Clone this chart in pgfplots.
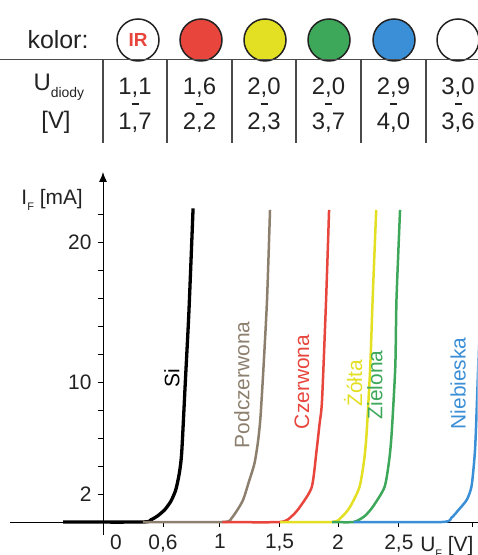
\documentclass[border=0pt]{standalone}
\usepackage{fontspec}
\setmainfont{Liberation Sans}
\usepackage{pgfplots}
\pgfplotsset{compat=1.18}
\usetikzlibrary{arrows.meta}
\definecolor{cred}{HTML}{E8453C}
\definecolor{cyel}{HTML}{E3DF22}
\definecolor{cgrn}{HTML}{3DA85A}
\definecolor{cblu}{HTML}{3B8FD6}
\definecolor{cbrn}{HTML}{8C7F6E}
\definecolor{txt}{HTML}{222222}
\definecolor{lin}{HTML}{4A4A4A}
\newcommand{\bigf}{\fontsize{24}{24}\selectfont}
\newcommand{\lbl}{\fontsize{21}{21}\selectfont}
\begin{document}
\begin{tikzpicture}[x=1bp,y=1bp]
\useasboundingbox (0,0) rectangle (478,555);
% ---- table header ----
\node[font=\fontsize{25}{25}\selectfont, text=txt] at (58,515) {kolor:};
\draw[line width=1.5bp, draw=txt, fill=white] (138,515) circle (21);
\node[font=\fontsize{19}{19}\selectfont\bfseries, text=cred] at (138,515) {IR};
\draw[line width=1.5bp, draw=txt, fill=cred] (201,515) circle (21);
\draw[line width=1.5bp, draw=txt, fill=cyel] (265,515) circle (21);
\draw[line width=1.5bp, draw=txt, fill=cgrn] (329,515) circle (21);
\draw[line width=1.5bp, draw=txt, fill=cblu] (394,515) circle (21);
\draw[line width=1.5bp, draw=txt, fill=white] (458,515) circle (21);
\draw[line width=1.3bp, draw=lin] (0,495.5) -- (478,495.5);
\foreach \xx in {103,167,232,296,361,426}{\draw[line width=1.1bp, draw=lin] (\xx,495.5) -- (\xx,412);}
\node[font=\bigf, text=txt, anchor=west] at (30,468) {U\raisebox{-0.55ex}{\fontsize{14}{14}\selectfont diody}};
\node[font=\bigf, text=txt] at (56,433) {[V]};
\foreach \cx/\a/\b in {135/{1,1}/{1,7},199.5/{1,6}/{2,2},264/{2,0}/{2,3},328.5/{2,0}/{3,7},393.5/{2,9}/{4,0},458/{3,0}/{3,6}}{
  \node[font=\bigf, text=txt, inner sep=0pt] at (\cx,467) {\a};
  \draw[line width=1.6bp, draw=txt] (\cx-3.5,451) -- (\cx+3.5,451);
  \node[font=\bigf, text=txt, inner sep=0pt] at (\cx,432) {\b};
}
% ---- plot ----
\begin{axis}[
  at={(103bp,33bp)}, anchor=origin,
  x=119.3bp, y=14bp,
  xmin=-0.78, xmax=3.14, ymin=-0.93, ymax=25,
  axis lines=middle,
  axis line style={black, line width=0.9bp, -},
  y axis line style={-{Latex[length=10bp,width=8bp]}},
  tick style={black, line width=0.9bp},
  major tick length=5bp,
  tick align=outside,
  hide obscured x ticks=false,
  hide obscured y ticks=false,
  xtick={0,0.503,0.98,1.48,1.97,2.48,3.1},
  xticklabels={\makebox[0pt][l]{\hspace{7bp}0},{0,6},1,{1,5},2,{2,5},{}},
  ytick={2,4,6,8,10,12,14,16,18,20,22},
  yticklabels={2,,,,10,,,,,20,},
  tick label style={font=\lbl, text=txt},
  xticklabel style={yshift=-4bp},
  yticklabel style={xshift=-3bp},
  xlabel={U\raisebox{-0.5ex}{\fontsize{11}{11}\selectfont F} [V]},
  ylabel={I\raisebox{-0.5ex}{\fontsize{11}{11}\selectfont F} [mA]},
  every axis x label/.style={at={(axis cs:2.63,-1.79)}, anchor=west, font=\lbl, text=txt},
  every axis y label/.style={at={(axis cs:-0.14,23.0)}, anchor=east, font=\lbl, text=txt},
  clip=true,
]
\addplot[black, line width=3.3bp, smooth, tension=0.4] coordinates {
(-0.335,0) (0.33,0) (0.40,0.15) (0.46,0.45) (0.52,0.9) (0.57,1.5) (0.61,2.3) (0.64,3.5) (0.66,5.0) (0.69,10) (0.72,15) (0.755,22.4)};
\addplot[cbrn, line width=2.5bp, smooth, tension=0.4] coordinates {
(0.335,0) (1.0,0) (1.08,0.3) (1.17,1.5) (1.22,2.8) (1.27,4.2) (1.30,5.8) (1.32,7.5) (1.345,11) (1.375,15.9) (1.40,22.3)};
\addplot[cred, line width=2.5bp, smooth, tension=0.4] coordinates {
(1.0,0) (1.484,0) (1.58,0.4) (1.65,1.07) (1.75,2.5) (1.79,5.1) (1.815,7) (1.836,8.7) (1.87,15.9) (1.895,22.3)};
\addplot[cyel, line width=2.5bp, smooth, tension=0.4] coordinates {
(1.484,0) (1.92,0) (2.00,0.35) (2.07,1.07) (2.15,2.5) (2.19,4.5) (2.21,6.4) (2.24,11.1) (2.26,15.9) (2.29,22.3)};
\addplot[cgrn, line width=2.5bp, smooth, tension=0.4] coordinates {
(1.92,0) (2.10,0) (2.19,0.4) (2.26,1.07) (2.36,2.5) (2.40,4.5) (2.42,6.4) (2.45,11.1) (2.46,15.9) (2.49,22.3)};
\addplot[cblu, line width=2.5bp, smooth, tension=0.4] coordinates {
(2.10,0) (2.84,0) (2.92,0.3) (2.98,0.86) (3.05,1.6) (3.09,2.6) (3.118,5.1) (3.135,8.7) (3.16,15) (3.18,22)};
\node[rotate=90, font=\lbl, text=black] at (axis cs:0.578,10.3) {Si};
\node[rotate=90, font=\lbl, text=cbrn] at (axis cs:1.165,9.8) {Podczerwona};
\node[rotate=90, font=\lbl, text=cred] at (axis cs:1.668,10.0) {Czerwona};
\node[rotate=90, font=\lbl, text=cyel] at (axis cs:2.096,9.9) {Żółta};
\node[rotate=90, font=\lbl, text=cgrn] at (axis cs:2.28,9.8) {Zielona};
\node[rotate=90, font=\lbl, text=cblu] at (axis cs:2.976,9.9) {Niebieska};
\end{axis}
\end{tikzpicture}
\end{document}
